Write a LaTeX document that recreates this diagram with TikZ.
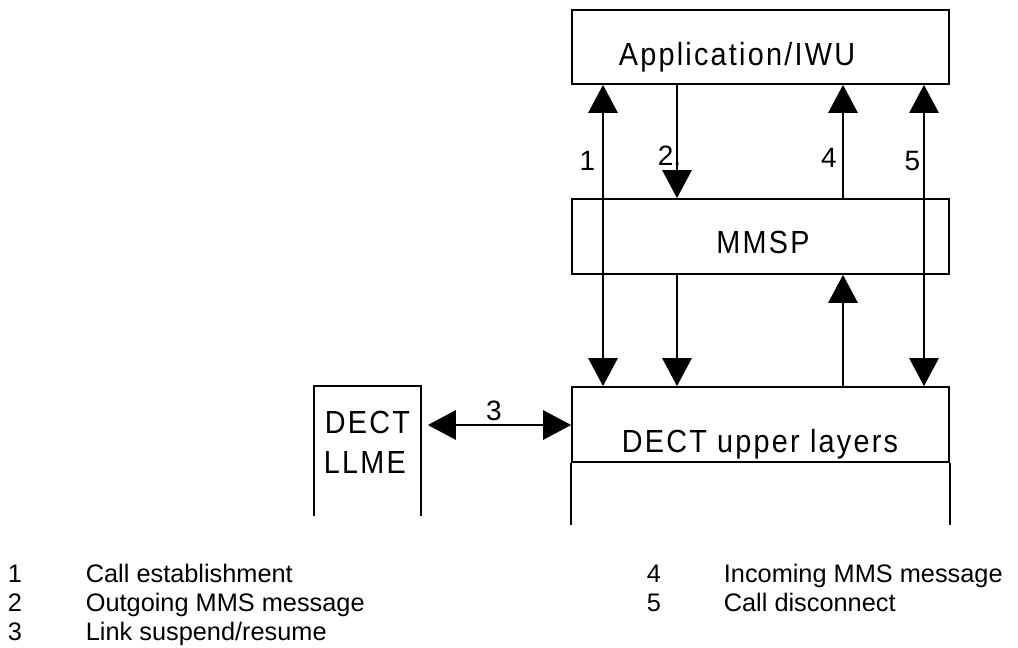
\documentclass[tikz,border=0pt]{standalone}
\usepackage{fontspec}
\setmainfont{Liberation Sans}
\newfontfamily\boxfont[FakeStretch=0.9,LetterSpace=7]{Liberation Sans}
\usetikzlibrary{arrows.meta}
\begin{document}
\begin{tikzpicture}[x=0.75pt,y=-0.75pt,line width=1.3pt,
  box/.style={draw,inner sep=0pt,minimum width=282.75pt,minimum height=55.5pt},
  boxtext/.style={inner sep=0pt,anchor=base,font=\boxfont\fontsize{24}{28}\selectfont},
  lbl/.style={inner sep=0pt,anchor=base,font=\fontsize{21}{25}\selectfont},
  legnum/.style={inner sep=0pt,anchor=base,font=\fontsize{19}{23}\selectfont},
  legtxt/.style={inner sep=0pt,anchor=base west,font=\fontsize{19}{23}\selectfont},
  sgl/.style={-{Triangle[width=22pt,length=21pt]}},
  dbl/.style={{Triangle[width=22pt,length=21pt]}-{Triangle[width=22pt,length=21pt]}}]
\useasboundingbox (0,0) rectangle (1018,647);
% boxes
\node[box] (app) at (760.5,47) {};
\node[box,minimum height=56.25pt] (mmsp) at (760.5,236.5) {};
\node[box,minimum height=56.25pt] (dect) at (760.5,424.5) {};
\node[inner sep=0pt,minimum width=78.75pt,minimum height=96pt] (llme) at (367.5,451) {};
\draw (dect.south west) -- ++(0,62);
\draw (dect.south east) -- ++(0,62);
\draw (llme.south west) -- (llme.north west) -- (llme.north east) -- (llme.south east);
% texts
\node[boxtext] (tapp) at (737,65) {Application/IWU};
\node[boxtext] (tmmsp) at (763,253) {MMSP};
\node[boxtext] (tdect) at (760,452) {DECT upper layers};
\node[boxtext,anchor=base west] (tllme1) at (324,433) {DECT};
\node[boxtext,anchor=base west] (tllme2) at (323,473) {LLME};
% arrow positions
\coordinate (x1) at (603,0);
\coordinate (x2) at (677,0);
\coordinate (x4) at (843,0);
\coordinate (x5) at (924,0);
\coordinate (y3) at (0,425);
\draw[dbl] (dect.north -| x1) -- (app.south -| x1);
\draw[sgl] (app.south -| x2) -- (mmsp.north -| x2);
\draw[sgl] (mmsp.south -| x2) -- (dect.north -| x2);
\draw[sgl] (mmsp.north -| x4) -- (app.south -| x4);
\draw[sgl] (dect.north -| x4) -- (mmsp.south -| x4);
\draw[dbl] (dect.north -| x5) -- (app.south -| x5);
\draw[dbl,shorten <=5.25pt] (llme.east |- y3) -- (dect.west |- y3);
% labels
\node[lbl] (l1) at (587.5,170) {1};
\node[lbl,anchor=base west] (l2) at (657,165) {2.};
\node[lbl] (l3) at (494,420) {3};
\node[lbl] (l4) at (829,167) {4};
\node[lbl] (l5) at (912.5,170) {5};
% legend
\node[legnum] (n1) at (15,582) {1};
\node[legtxt] (d1) at (85,582) {Call establishment};
\node[legnum] (n2) at (15,611) {2};
\node[legtxt] (d2) at (85,611) {Outgoing MMS message};
\node[legnum] (n3) at (15,640) {3};
\node[legtxt] (d3) at (85,640) {Link suspend/resume};
\node[legnum] (n4) at (654,582) {4};
\node[legtxt] (d4) at (723,582) {Incoming MMS message};
\node[legnum] (n5) at (654,611) {5};
\node[legtxt] (d5) at (723,611) {Call disconnect};
\end{tikzpicture}
\end{document}
